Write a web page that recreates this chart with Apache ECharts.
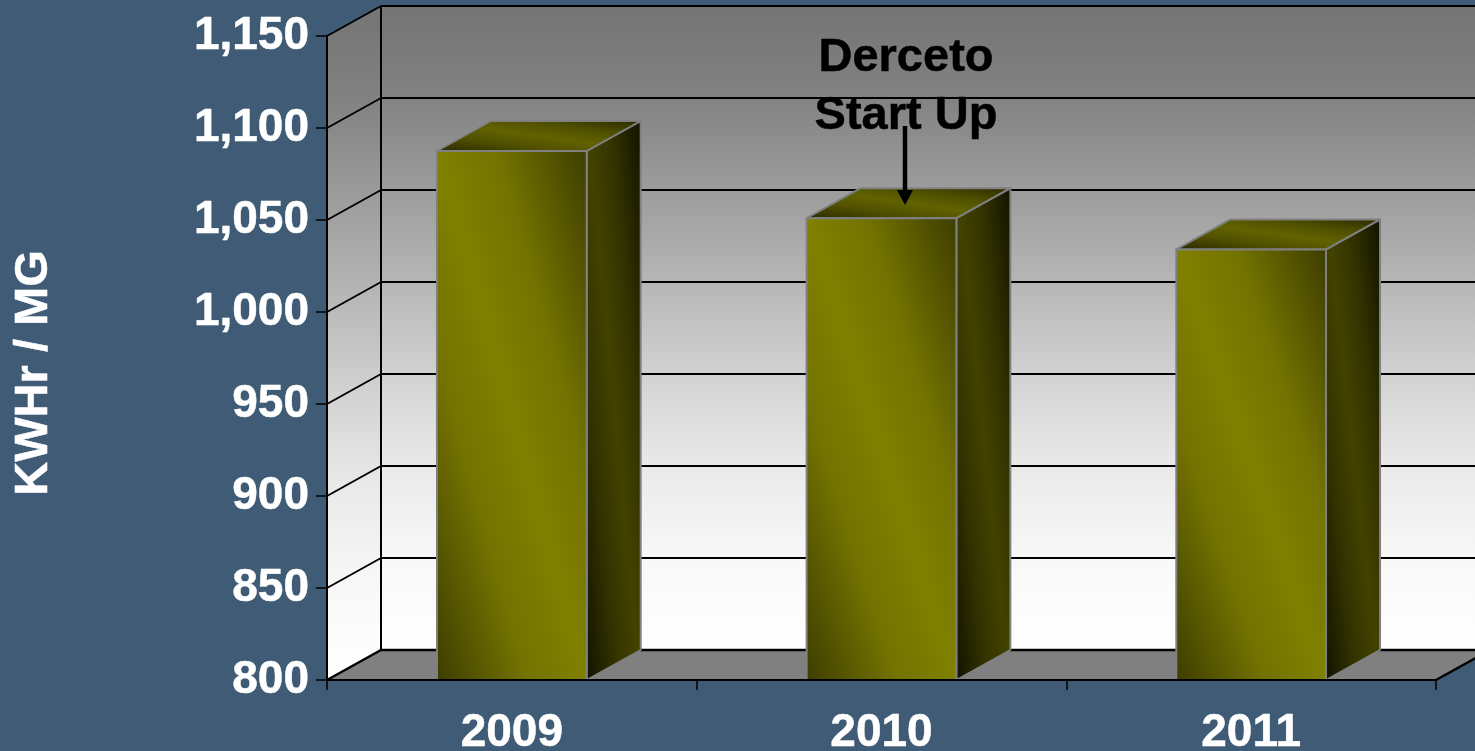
<!DOCTYPE html>
<html>
<head>
<meta charset="utf-8">
<title>KWHr / MG</title>
<script src="https://cdn.jsdelivr.net/npm/echarts@6/dist/echarts.min.js"></script>
<style>
  html, body { margin: 0; padding: 0; background: #3f5b75; }
  #chart { width: 1475px; height: 751px; }
</style>
</head>
<body>
<div id="chart"></div>
<script>
const years = ['2009', '2010', '2011'];
const kwhPerMg = [1087.5, 1051, 1034];
const gridValues = [850, 900, 950, 1000, 1050, 1100, 1150];
const axisMin = 800;
const axisMax = 1150;

// 3d look: how far the back wall is shifted from the front plane
const depthX = 54;
const depthY = -30;
const fontFamily = '"Liberation Sans", Arial, sans-serif';

const chart = echarts.init(document.getElementById('chart'));

// dark - bright - dark band running from the top left to the bottom right corner of a w x h box
const bandFill = (w, h, dark, soft, bright) => {
  const d2 = w * w + h * h;
  const dx = h * h / d2;
  const dy = w * w / d2;
  return new echarts.graphic.LinearGradient(0.5 - dx, 0.5 + dy, 0.5 + dx, 0.5 - dy, [
    { offset: 0, color: dark },
    { offset: 0.3, color: soft },
    { offset: 0.5, color: bright },
    { offset: 0.7, color: soft },
    { offset: 1, color: dark },
  ]);
};

const wallFill = () => new echarts.graphic.LinearGradient(0, 0, 0, 1, [
  { offset: 0, color: '#747474' },
  { offset: 0.141, color: '#828282' },
  { offset: 0.284, color: '#9c9c9c' },
  { offset: 0.428, color: '#b6b6b6' },
  { offset: 0.572, color: '#d2d2d2' },
  { offset: 0.712, color: '#e9e9e9' },
  { offset: 0.856, color: '#f8f8f8' },
  { offset: 1, color: '#ffffff' },
]);

const renderWalls = (params, api) => {
  const cs = params.coordSys;
  const left = cs.x;
  const right = cs.x + cs.width;
  const top = cs.y;
  const bottom = cs.y + cs.height;
  const line = { stroke: '#000', lineWidth: 2 };
  const thick = { stroke: '#000', lineWidth: 2.5 };
  return {
    type: 'group',
    children: [
      {
        type: 'polygon',
        shape: { points: [[left, bottom], [left, top], [left + depthX, top + depthY], [left + depthX, bottom + depthY]] },
        style: { fill: wallFill() },
      },
      {
        type: 'rect',
        shape: { x: left + depthX, y: top + depthY, width: cs.width, height: cs.height },
        style: { fill: wallFill() },
      },
      {
        type: 'polygon',
        shape: { points: [[left, bottom], [right, bottom], [right + depthX, bottom + depthY], [left + depthX, bottom + depthY]] },
        style: { fill: '#808080' },
      },
      { type: 'line', shape: { x1: left + depthX, y1: top + depthY, x2: left + depthX, y2: bottom + depthY }, style: line },
      { type: 'line', shape: { x1: left, y1: bottom, x2: left + depthX, y2: bottom + depthY }, style: thick },
      { type: 'line', shape: { x1: left + depthX, y1: bottom + depthY, x2: right + depthX, y2: bottom + depthY }, style: thick },
      { type: 'line', shape: { x1: right, y1: bottom, x2: right + depthX, y2: bottom + depthY }, style: thick },
    ],
  };
};

const renderGridLine = (params, api) => {
  const cs = params.coordSys;
  const y = api.coord([0, api.value(0)])[1];
  const style = { stroke: '#000', lineWidth: 2 };
  return {
    type: 'group',
    children: [
      { type: 'line', shape: { x1: cs.x, y1: y, x2: cs.x + depthX, y2: y + depthY }, style },
      { type: 'line', shape: { x1: cs.x + depthX, y1: y + depthY, x2: cs.x + cs.width + depthX, y2: y + depthY }, style },
    ],
  };
};

const renderBar = (params, api) => {
  const top = api.coord([api.value(0), api.value(1)]);
  const base = api.coord([api.value(0), axisMin]);
  const width = api.size([1, 0])[0] * 0.405;
  const height = base[1] - top[1];
  const x1 = top[0] - width / 2;
  const x2 = top[0] + width / 2;
  const edge = { stroke: '#808080', lineWidth: 2, lineJoin: 'round' };
  return {
    type: 'group',
    children: [
      {
        type: 'polygon',
        shape: { points: [[x2, top[1]], [x2 + depthX, top[1] + depthY], [x2 + depthX, base[1] + depthY], [x2, base[1]]] },
        style: { fill: bandFill(depthX, height - depthY, '#101000', '#333300', '#424200'), ...edge },
      },
      {
        type: 'polygon',
        shape: { points: [[x1, top[1]], [x1 + depthX, top[1] + depthY], [x2 + depthX, top[1] + depthY], [x2, top[1]]] },
        style: { fill: bandFill(width + depthX, -depthY, '#242400', '#505000', '#626200'), ...edge },
      },
      {
        type: 'rect',
        shape: { x: x1, y: top[1], width: width, height: height },
        style: { fill: bandFill(width, height, '#3c3c00', '#727200', '#808000'), ...edge },
      },
    ],
  };
};

const option = {
  backgroundColor: '#3f5b75',
  animation: false,
  grid: { left: 327, top: 36, width: 1109, height: 644, outerBoundsMode: 'none' },
  xAxis: {
    type: 'category',
    data: years,
    z: 5,
    axisLine: { lineStyle: { color: '#000', width: 2 } },
    axisTick: { show: true, length: 10, lineStyle: { color: '#000', width: 1.5 } },
    axisLabel: {
      color: '#fff',
      fontSize: 46,
      fontWeight: 'bold',
      fontFamily,
      margin: 30,
      textBorderColor: '#fff',
      textBorderWidth: 0.5,
    },
  },
  yAxis: {
    type: 'value',
    min: axisMin,
    max: axisMax,
    interval: 50,
    z: 5,
    splitLine: { show: false },
    axisLine: { show: true, lineStyle: { color: '#000', width: 2 } },
    axisTick: { show: true, length: 11, lineStyle: { color: '#000', width: 1.5 } },
    axisLabel: {
      color: '#fff',
      fontSize: 46,
      fontWeight: 'bold',
      fontFamily,
      margin: 18,
      padding: [5, 0, 0, 0],
      textBorderColor: '#fff',
      textBorderWidth: 0.5,
      formatter: v => v.toLocaleString('en-US'),
    },
  },
  graphic: [
    {
      type: 'text',
      x: 34,
      y: 373,
      rotation: Math.PI / 2,
      style: {
        text: 'KWHr / MG',
        fill: '#fff',
        stroke: '#fff',
        lineWidth: 0.5,
        font: 'bold 47px ' + fontFamily,
        align: 'center',
        verticalAlign: 'middle',
      },
      z: 10,
    },
    {
      type: 'text',
      x: 906,
      y: 87,
      style: {
        text: 'Derceto\nStart Up',
        fill: '#000',
        stroke: '#000',
        lineWidth: 0.5,
        font: 'bold 47px ' + fontFamily,
        lineHeight: 58,
        align: 'center',
        verticalAlign: 'middle',
      },
      z: 10,
    },
    {
      type: 'line',
      shape: { x1: 905, y1: 126, x2: 905, y2: 192 },
      style: { stroke: '#000', lineWidth: 4.5 },
      z: 10,
    },
    {
      type: 'polygon',
      shape: { points: [[897, 190], [913, 190], [905, 205]] },
      style: { fill: '#000' },
      z: 10,
    },
  ],
  series: [
    {
      type: 'custom',
      z: 1,
      clip: false,
      silent: true,
      renderItem: renderWalls,
      data: [[0, axisMin]],
    },
    {
      type: 'custom',
      z: 2,
      clip: false,
      silent: true,
      renderItem: renderGridLine,
      encode: { y: 0 },
      data: gridValues.map(v => [v]),
    },
    {
      type: 'custom',
      z: 3,
      clip: false,
      silent: true,
      renderItem: renderBar,
      encode: { x: 0, y: 1 },
      data: kwhPerMg.map((v, i) => [i, v]),
    },
  ],
};

chart.setOption(option);
</script>
</body>
</html>
